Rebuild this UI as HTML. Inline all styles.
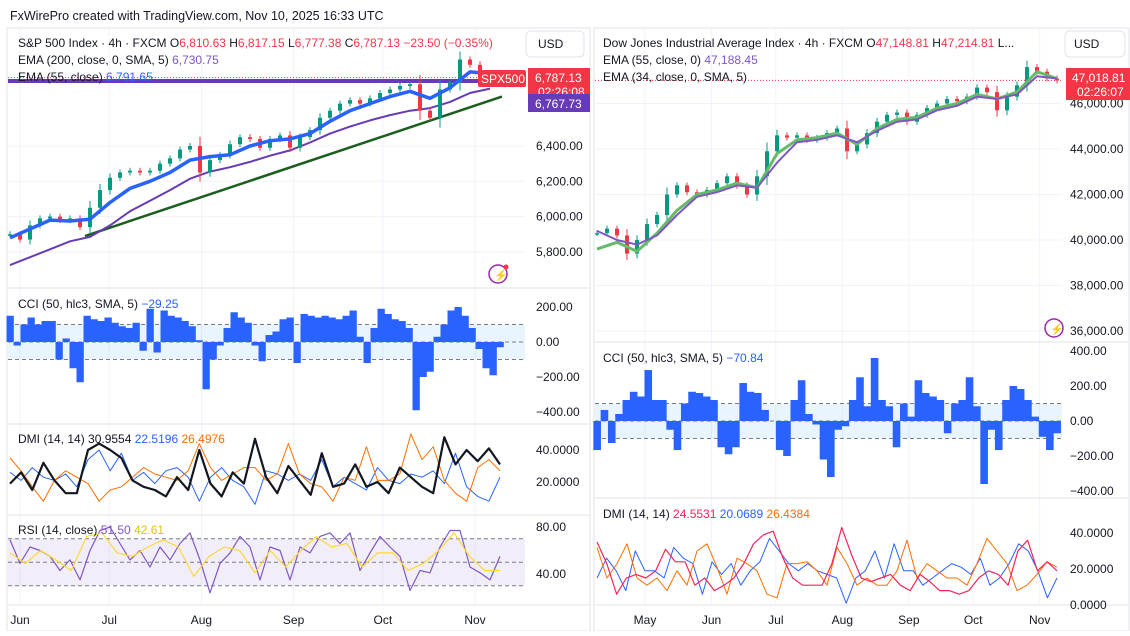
<!DOCTYPE html>
<html><head><meta charset="utf-8"><style>
body{margin:0;background:#fff;width:1130px;height:631px;overflow:hidden;font-family:"Liberation Sans",sans-serif}
svg text{font-family:"Liberation Sans",sans-serif}
</style></head><body>
<svg id="c" width="1130" height="631" viewBox="0 0 1130 631" xmlns="http://www.w3.org/2000/svg">
<rect width="1130" height="631" fill="#fff"/>
<text x="10" y="20" font-size="12.5" fill="#131722">FxWirePro created with TradingView.com, Nov 10, 2025 16:33 UTC</text>
<rect x="7" y="28" width="583" height="603" fill="none" stroke="#e0e3eb"/>
<rect x="594" y="28" width="535" height="603" fill="none" stroke="#e0e3eb"/>
<g id="grid"></g>
<g id="marks"></g>
<g id="labels"></g>
</svg>
<script>
// ---------- DATA ----------
const spxClose=[5900,5870,5950,5990,6000,5980,5990,5940,6050,6150,6220,6250,6260,6250,6260,6300,6330,6380,6400,6250,6320,6350,6410,6450,6440,6390,6440,6460,6390,6450,6490,6560,6600,6640,6660,6640,6670,6700,6720,6740,6750,6600,6560,6720,6760,6890,6860,6800,6760,6787];
const spxEma55=[5880,5930,5980,5975,5985,6080,6160,6200,6250,6320,6340,6350,6400,6430,6440,6470,6540,6600,6640,6680,6710,6670,6730,6820,6810];
const spxEma200=[5725,5770,5815,5860,5885,5950,6030,6090,6150,6215,6255,6280,6310,6345,6375,6420,6470,6510,6545,6575,6600,6615,6650,6700,6725];
const spxTrend=[5890,6680];
const spxTicks=[6400,6200,6000,5800];
const leftMonths=["Jun","Jul","Aug","Sep","Oct","Nov"];
const leftMonthDay=[0,30,61,92,122,153];
const cciLeft=[150,-20,100,140,100,120,120,-100,20,-150,-230,150,130,120,140,110,90,80,110,-50,190,-60,180,150,140,120,90,10,-270,-100,-20,80,170,140,110,-20,-110,40,60,130,140,-120,160,150,140,150,140,130,150,180,30,-120,80,190,160,130,120,80,-390,-200,-170,30,100,180,200,150,80,-40,-150,-190,-30];
const cciTicksL=[200,0,-200,-400];
const dmiAdxL=[19,26,15,32,21,13,13,40,44,40,35,21,17,15,11,23,15,40,19,11,26,19,47,23,13,30,21,12,38,17,19,31,17,20,13,29,23,17,13,48,31,40,33,41,31];
const dmiPlusL=[26,21,29,23,21,25,17,34,40,27,38,21,26,19,27,29,23,8,23,29,21,17,6,27,25,21,25,21,34,17,23,19,15,29,21,19,25,23,27,19,38,17,11,8,23];
const dmiMinusL=[35,27,17,8,21,27,23,19,8,15,17,23,29,25,23,21,27,44,29,21,25,29,29,21,25,44,25,19,17,8,23,21,42,21,21,25,50,34,42,21,13,8,29,34,27];
const dmiTicksL=[40,20];
const rsiL=[69,49,63,60,55,43,52,35,60,77,80,66,52,60,46,63,52,66,75,52,24,49,58,72,63,35,63,60,35,63,58,72,75,66,75,43,58,72,63,55,26,43,41,63,77,77,46,41,35,55];
const rsiMaL=[58,49,60,52,43,72,75,58,55,63,69,63,38,55,63,60,41,60,46,60,72,63,66,46,58,58,43,49,60,75,55,43,43];
const rsiTicks=[80,40];

const djiClose=[40300,40500,40200,39400,40000,40700,41100,42000,42400,42100,42000,42200,42500,42800,42400,42000,42800,43900,44600,44500,44600,44400,44500,44700,44900,43900,44200,44700,45200,45500,45600,45200,45500,45800,46000,46200,46100,46300,46700,46500,45700,46300,46800,47600,47400,47100,47018];
const djiEma34=[39600,39900,39500,40300,41300,42000,42200,42500,42300,43800,44400,44500,44700,44200,44900,45300,45400,45800,46000,46400,46200,46500,47400,47100];
const djiEma55=[40400,40000,39800,40200,41100,41900,42100,42400,42300,43400,44300,44400,44600,44300,44800,45200,45300,45700,45900,46300,46200,46400,47200,47100];
const djiTicks=[46000,44000,42000,40000,38000,36000];
const rightMonths=["May","Jun","Jul","Aug","Sep","Oct","Nov"];
const rightMonthDay=[0,31,61,92,123,153,184];
const cciRight=[-166,63,-126,40,120,167,140,291,120,120,-50,-166,100,167,160,140,120,-150,-190,-150,217,167,160,63,0,-166,-200,120,233,40,-20,-220,-320,-50,-30,120,250,84,360,120,84,-150,100,25,233,160,140,120,-70,100,120,250,84,-360,-50,-166,120,200,183,120,25,-90,-166,-70];
const cciTicksR=[400,200,0,-200,-400];
const dmiAdxR=[35,23,6,15,17,15,19,31,24,24,11,15,8,11,15,23,34,39,41,26,15,11,11,11,23,43,28,15,13,15,17,11,8,17,13,8,8,6,8,15,19,17,11,30,36,19,24,19];
const dmiPlusR=[15,26,19,8,30,19,19,15,32,26,23,6,24,17,23,11,19,24,37,30,23,19,23,19,17,15,1,15,19,30,15,34,19,19,11,15,19,23,21,17,26,11,15,23,34,30,19,4,15];
const dmiMinusR=[32,15,23,34,15,11,15,8,19,11,30,34,21,6,26,23,19,6,4,23,23,24,19,11,32,23,11,15,11,11,19,36,15,23,19,15,15,11,23,37,30,23,8,11,17,24,21];
const dmiTicksR=[40,20,0];

// ---------- SCALES ----------
const L0=10,L1=500,R0=597,R1=1057;
const spxY=p=>146+(6400-p)*35.3/200;
const djiY=p=>240-(p-40000)*45.5/2000;
const cciLY=v=>342-v*0.175, cciRY=v=>421-v*0.175;
const dmiLY=v=>482-(v-20)*1.6, dmiRY=v=>569-(v-20)*1.8;
const rsiLY=v=>574-(v-40)*1.175;
const xs=(i,n,a,b)=>a+i*(b-a)/(n-1);
const leftDayX=d=>20+d*2.974, rightDayX=d=>645+d*2.145;

const NS="http://www.w3.org/2000/svg";
const G=document.getElementById('grid'),M=document.getElementById('marks'),T=document.getElementById('labels');
function mk(tag,attrs,parent){const e=document.createElementNS(NS,tag);for(const k in attrs)e.setAttribute(k,attrs[k]);parent.appendChild(e);return e;}
function txt(s,x,y,fill,size,parent,anchor){const e=mk('text',{x:x,y:y,fill:fill,'font-size':size||12,'text-anchor':anchor||'start'},parent);e.textContent=s;return e;}
function line(arr,n0,n1,yf,color,w,name){
  const pts=arr.map((v,i)=>xs(i,arr.length,n0,n1).toFixed(1)+','+yf(v).toFixed(1)).join(' ');
  const e=mk('polyline',{points:pts,fill:'none',stroke:color,'stroke-width':w,'stroke-linejoin':'round'},M);
  
  
  return e;
}

// ---------- GRID ----------
leftMonthDay.forEach(d=>{mk('line',{x1:leftDayX(d),x2:leftDayX(d),y1:29,y2:605,stroke:'#f0f3fa'},G);});
rightMonthDay.forEach(d=>{mk('line',{x1:rightDayX(d),x2:rightDayX(d),y1:29,y2:605,stroke:'#f0f3fa'},G);});
spxTicks.forEach(t=>mk('line',{x1:8,x2:525,y1:spxY(t),y2:spxY(t),stroke:'#f0f3fa'},G));
djiTicks.forEach(t=>mk('line',{x1:595,x2:1062,y1:djiY(t),y2:djiY(t),stroke:'#f0f3fa'},G));
[288,424,515,605].forEach(y=>mk('line',{x1:8,x2:590,y1:y,y2:y,stroke:'#e0e3eb'},G));
[342,498,605].forEach(y=>mk('line',{x1:595,x2:1129,y1:y,y2:y,stroke:'#e0e3eb'},G));
mk('rect',{x:8,y:cciLY(100),width:517,height:cciLY(-100)-cciLY(100),fill:'rgba(33,150,243,0.1)'},G);
mk('rect',{x:595,y:cciRY(100),width:467,height:cciRY(-100)-cciRY(100),fill:'rgba(33,150,243,0.1)'},G);
mk('rect',{x:8,y:rsiLY(70),width:517,height:rsiLY(30)-rsiLY(70),fill:'rgba(126,87,194,0.1)'},G);
[100,0,-100].forEach(v=>{mk('line',{x1:8,x2:525,y1:cciLY(v),y2:cciLY(v),stroke:'#787b86','stroke-dasharray':'4,3'},G);mk('line',{x1:595,x2:1062,y1:cciRY(v),y2:cciRY(v),stroke:'#787b86','stroke-dasharray':'4,3'},G);});
[70,50,30].forEach(v=>mk('line',{x1:8,x2:525,y1:rsiLY(v),y2:rsiLY(v),stroke:'#787b86','stroke-dasharray':'4,3'},G));

// ---------- LEFT MAIN ----------
const hl=mk('line',{x1:8,x2:525,y1:81,y2:81,stroke:'#673ab7','stroke-width':4},M);


mk('line',{x1:8,x2:525,y1:spxY(6787.13),y2:spxY(6787.13),stroke:'#f23645','stroke-dasharray':'1,2'},M);
const tl=mk('line',{x1:85,y1:spxY(spxTrend[0]),x2:502,y2:spxY(spxTrend[1]),stroke:'#1b5e20','stroke-width':2.5},M);


line(spxEma200,L0,490,spxY,'#673ab7',2,'ema200-line');
function candles(arr,a,b,yf,w,name){
  arr.forEach((c,i)=>{
    const o=i?arr[i-1]:c; const x=xs(i,arr.length,a,b);
    const y1=yf(Math.max(o,c)),y2=yf(Math.min(o,c)); const col=c>=o?'#089981':'#f23645';
    const ext=Math.max(3,(y2-y1)*0.35);
    mk('line',{x1:x,x2:x,y1:y1-ext,y2:y2+ext,stroke:col,'stroke-width':1},M);
    const r=mk('rect',{x:x-w/2,y:y1,width:w,height:Math.max(1.5,y2-y1),fill:col},M);
    
    
  });
}
candles(spxClose,L0,L1,spxY,4,'spx-candle');
line(spxEma55,L0,490,spxY,'#2962ff',3.5,'ema55-line');

// ---------- RIGHT MAIN ----------
mk('line',{x1:595,x2:1062,y1:djiY(47018.81),y2:djiY(47018.81),stroke:'#f23645','stroke-dasharray':'1,2'},M);
candles(djiClose,R0,R1,djiY,4,'dji-candle');
line(djiEma34,R0,R1,djiY,'#66bb6a',3,'ema34-line');
line(djiEma55,R0,R1,djiY,'#7e57c2',2,'ema55-line-dji');

// ---------- CCI ----------
function bars(arr,a,b,yf,name){
  const w=(b-a)/(arr.length-1);
  arr.forEach((v,i)=>{const x=xs(i,arr.length,a,b);const y0=yf(0),y=yf(v);
    const r=mk('rect',{x:x-w/2,y:Math.min(y,y0),width:w+0.3,height:Math.abs(y-y0),fill:'#2962ff'},M);
    
    });
}
bars(cciLeft,L0,L1,cciLY,'cci-bar');
bars(cciRight,R0,R1,cciRY,'cci-bar-dji');

// ---------- DMI / RSI ----------
line(dmiPlusL,L0,L1,dmiLY,'#2962ff',1,'dmi-plus-line');
line(dmiMinusL,L0,L1,dmiLY,'#ff6d00',1,'dmi-minus-line');
line(dmiAdxL,L0,L1,dmiLY,'#131722',2.2,'adx-line');
line(rsiL,L0,L1,rsiLY,'#7e57c2',1.2,'rsi-line');
line(rsiMaL,L0,L1,rsiLY,'#fdd835',1.2,'rsi-ma-line');
line(dmiPlusR,R0,R1,dmiRY,'#2962ff',1,'dmi-plus-line-dji');
line(dmiMinusR,R0,R1,dmiRY,'#ff6d00',1,'dmi-minus-line-dji');
line(dmiAdxR,R0,R1,dmiRY,'#f7245a',1.2,'adx-line-dji');

// ---------- AXES ----------
const gray='#131722';
spxTicks.forEach(t=>txt(t.toLocaleString('en-US')+'.00',536,spxY(t)+4,gray,12,T));
cciTicksL.forEach(t=>txt((t<0?'\u2212'+(-t):t)+'.00',536,cciLY(t)+4,gray,12,T));
dmiTicksL.forEach(t=>txt(t+'.0000',536,dmiLY(t)+4,gray,12,T));
rsiTicks.forEach(t=>txt(t+'.00',536,rsiLY(t)+4,gray,12,T));
djiTicks.forEach(t=>txt(t.toLocaleString('en-US')+'.00',1070,djiY(t)+4,gray,12,T));
cciTicksR.forEach(t=>txt((t<0?'\u2212'+(-t):t)+'.00',1070,cciRY(t)+4,gray,12,T));
dmiTicksR.forEach(t=>txt(t+'.0000',1070,dmiRY(t)+4,gray,12,T));
leftMonths.forEach((m,i)=>txt(m,leftDayX(leftMonthDay[i]),624,gray,12,T,'middle'));
rightMonths.forEach((m,i)=>txt(m,rightDayX(rightMonthDay[i]),624,gray,12,T,'middle'));
</script>
<svg style="position:absolute;left:0;top:0" width="1130" height="631" viewBox="0 0 1130 631">
<g font-family="Liberation Sans, sans-serif" font-size="12">
<text x="18" y="47" fill="#131722">S&amp;P 500 Index · 4h · FXCM  <tspan fill="#131722">O</tspan><tspan fill="#f23645">6,810.63</tspan>  H<tspan fill="#f23645">6,817.15</tspan>  L<tspan fill="#f23645">6,777.38</tspan>  C<tspan fill="#f23645">6,787.13  −23.50 (−0.35%)</tspan></text>
<text x="18" y="64" fill="#131722">EMA (200, close, 0, SMA, 5) <tspan fill="#7e57c2">6,730.75</tspan></text>
<text x="18" y="81" fill="#131722">EMA (55, close) <tspan fill="#2962ff">6,791.65</tspan></text>
<text x="18" y="308" fill="#131722">CCI (50, hlc3, SMA, 5) <tspan fill="#2962ff">−29.25</tspan></text>
<text x="18" y="443" fill="#131722">DMI (14, 14) 30.9554 <tspan fill="#2962ff">22.5196</tspan> <tspan fill="#ff6d00">26.4976</tspan></text>
<text x="18" y="534" fill="#131722">RSI (14, close) <tspan fill="#7e57c2">51.50</tspan> <tspan fill="#e6c200">42.61</tspan></text>
<text x="603" y="47" fill="#131722">Dow Jones Industrial Average Index · 4h · FXCM  O<tspan fill="#f23645">47,148.81</tspan>  H<tspan fill="#f23645">47,214.81</tspan>  L...</text>
<text x="603" y="64" fill="#131722">EMA (55, close, 0) <tspan fill="#7e57c2">47,188.45</tspan></text>
<text x="603" y="81" fill="#131722">EMA (34, close, 0, SMA, 5)</text>
<text x="603" y="362" fill="#131722">CCI (50, hlc3, SMA, 5) <tspan fill="#2962ff">−70.84</tspan></text>
<text x="603" y="518" fill="#131722">DMI (14, 14) <tspan fill="#f7245a">24.5531</tspan> <tspan fill="#2962ff">20.0689</tspan> <tspan fill="#ff6d00">26.4384</tspan></text>
<g><rect x="526" y="31" width="58" height="26" rx="5" fill="#fff" stroke="#e0e3eb"/><text x="538" y="48" fill="#131722">USD</text></g>
<g><rect x="1065" y="31" width="60" height="26" rx="5" fill="#fff" stroke="#e0e3eb"/><text x="1074" y="48" fill="#131722">USD</text></g>
<g><rect x="478" y="70" width="48" height="17" rx="2" fill="#f23645"/><text x="481" y="83" fill="#fff">SPX500</text></g>
<g><rect x="528" y="68" width="62" height="32" fill="#f23645"/><text x="535" y="82" fill="#fff">6,787.13</text><text x="538" y="96" fill="#fff">02:26:08</text></g>
<g><rect x="528" y="94" width="62" height="18" fill="#673ab7"/><text x="535" y="108" fill="#fff">6,767.73</text></g>
<g><rect x="1066" y="68" width="64" height="32" fill="#f23645"/><text x="1072" y="82" fill="#fff">47,018.81</text><text x="1077" y="96" fill="#fff">02:26:07</text></g>
<g><circle cx="498" cy="274" r="9" fill="#fff" stroke="#9c27b0" stroke-width="1.5"/><text x="494" y="279" fill="#9c27b0" font-size="11">⚡</text><circle cx="506" cy="267" r="2.5" fill="#f23645"/></g>
<g><circle cx="1054" cy="328" r="9" fill="#fff" stroke="#9c27b0" stroke-width="1.5"/><text x="1050" y="333" fill="#9c27b0" font-size="11">⚡</text></g>
</g>
</svg>
</body></html>
